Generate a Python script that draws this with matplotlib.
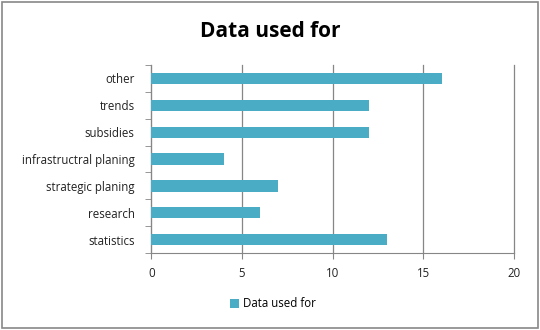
import matplotlib
matplotlib.use("Agg")
import matplotlib.pyplot as plt
from matplotlib.patches import Rectangle

# data (bottom to top as in the chart)
categories = ["statistics", "research", "strategic planing", "infrastructral planing",
              "subsidies", "trends", "other"]
values = [13, 6, 7, 4, 12, 12, 16]
xticks = [0, 5, 10, 15, 20]

bar_color = "#4bacc6"
grid_color = "#868686"

plt.rcParams["font.family"] = ["Open Sans", "DejaVu Sans"]

fig = plt.figure(figsize=(5.4, 3.3), dpi=100)
ax = fig.add_axes([0.28, 0.233, 0.672, 0.57])

ax.barh(range(len(categories)), values, height=0.42, color=bar_color, zorder=3,
        label="Data used for")
ax.set_xlim(0, 20)
ax.set_ylim(-0.5, len(categories) - 0.5)
ax.set_xticks(xticks)
ax.set_yticks(range(len(categories)))
ax.set_yticklabels(categories)
ax.set_yticks([i - 0.5 for i in range(len(categories) + 1)], minor=True)
ax.tick_params(axis="y", which="major", length=0, pad=12, labelsize=8.3, labelcolor="#222222")
ax.tick_params(axis="y", which="minor", length=4, color=grid_color)
ax.tick_params(axis="x", length=4, color=grid_color, labelsize=8.3, labelcolor="#222222", pad=6)
for gl in ax.xaxis.get_gridlines():
    gl.set_clip_on(False)
ax.grid(axis="x", color=grid_color, linewidth=0.9, zorder=0)
for gl in ax.xaxis.get_gridlines():
    gl.set_clip_on(False)

for side in ["top", "right"]:
    ax.spines[side].set_visible(False)
for side in ["left", "bottom"]:
    ax.spines[side].set_color(grid_color)

fig.suptitle("Data used for", y=0.935, fontsize=15, fontweight="bold")
ax.legend(loc="upper center", bbox_to_anchor=(0.335, -0.18), frameon=False, fontsize=8.3,
          handlelength=0.8, handleheight=0.8, handletextpad=0.3)

fig.patches.append(Rectangle((0.003, 0.005), 0.994, 0.99, transform=fig.transFigure,
                             fill=False, edgecolor="#888888", linewidth=1.2))

fig.savefig("out.png", dpi=100)
